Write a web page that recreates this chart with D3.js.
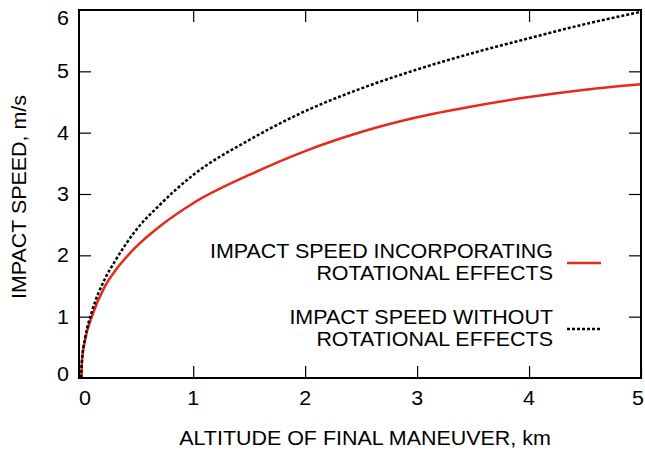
<!DOCTYPE html>
<html>
<head>
<meta charset="utf-8">
<script src="https://cdn.jsdelivr.net/npm/d3@7"></script>
<style>
  html, body { margin: 0; padding: 0; background: #fff; }
  svg { display: block; font-family: "Liberation Sans", Arial, sans-serif; }
</style>
</head>
<body>
<svg id="chart" width="645" height="453"></svg>
<script>
// Altitude of the final maneuver (km)
const altitude = [0, 0.005, 0.036, 0.095, 0.21, 0.3, 0.48, 0.7, 1, 1.5, 2, 2.5, 3, 3.5, 4, 4.5, 5];
// Impact speed including rotational effects (m/s)
const speedRotational = [0, 0.24, 0.63, 1.0, 1.49, 1.74, 2.12, 2.47, 2.85, 3.31, 3.70, 4.01, 4.25, 4.43, 4.58, 4.70, 4.79];
// Impact speed ignoring rotational effects (m/s)
const speedNoRotation = [0, 0.25, 0.66, 1.08, 1.61, 1.90, 2.39, 2.82, 3.31, 3.88, 4.35, 4.72, 5.03, 5.30, 5.54, 5.77, 5.97];

const xTicks = [0, 1, 2, 3, 4, 5];
const yTicks = [0, 1, 2, 3, 4, 5, 6];

const legendLabels = [
  ["IMPACT SPEED INCORPORATING", "ROTATIONAL EFFECTS"],
  ["IMPACT SPEED WITHOUT", "ROTATIONAL EFFECTS"]
];

const svg = d3.select("#chart");
const frame = { left: 79, right: 641, top: 10, bottom: 378 };
const fontSize = 19.5;
const widen = 1.1; // wide sans lettering

const x = d3.scaleLinear().domain([-0.02, 5]).range([frame.left, frame.right]);
const y = d3.scaleLinear().domain([0, 6]).range([frame.bottom, frame.top]);

// Helper: text placed at (tx, ty), optionally rotated, with widened glyphs
function label(parent, tx, ty, str, anchor, rot) {
  return parent.append("text")
    .attr("transform", `translate(${tx},${ty})${rot ? ` rotate(${rot})` : ""} scale(${widen},1)`)
    .attr("text-anchor", anchor)
    .attr("font-size", fontSize)
    .attr("fill", "#000")
    .text(str);
}

// clip curves to the frame
svg.append("clipPath").attr("id", "plot-clip")
  .append("rect").attr("x", frame.left).attr("y", frame.top)
  .attr("width", frame.right - frame.left).attr("height", frame.bottom - frame.top);

const tickLen = 12;

// Inward ticks on all four sides
const axisB = d3.axisBottom(x).tickValues(xTicks).tickSize(-tickLen).tickFormat("");
const axisT = d3.axisTop(x).tickValues(xTicks.slice(1, -1)).tickSize(-tickLen).tickFormat("");
const axisL = d3.axisLeft(y).tickValues(yTicks.slice(1, -1)).tickSize(-tickLen).tickFormat("");
const axisR = d3.axisRight(y).tickValues(yTicks.slice(1, -1)).tickSize(-tickLen).tickFormat("");

function styleAxis(g) {
  g.select(".domain").remove();
  g.selectAll(".tick line").attr("stroke", "#000").attr("stroke-width", 1.2);
}
svg.append("g").attr("transform", `translate(0,${frame.bottom})`).call(axisB).call(styleAxis);
svg.append("g").attr("transform", `translate(0,${frame.top})`).call(axisT).call(styleAxis);
svg.append("g").attr("transform", `translate(${frame.left},0)`).call(axisL).call(styleAxis);
svg.append("g").attr("transform", `translate(${frame.right},0)`).call(axisR).call(styleAxis);

// Tick labels (end labels nudged inside the page)
const xLab = svg.append("g");
xTicks.forEach(d => label(xLab, Math.min(Math.max(x(d), 85), 638), 405, d, "middle"));

const yLab = svg.append("g");
yTicks.forEach(d => label(yLab, 69, Math.min(Math.max(y(d), 18), 374) + 7, d, "end"));

// Axis titles
label(svg, 365, 445, "ALTITUDE OF FINAL MANEUVER, km", "middle");
label(svg, 26, 197, "IMPACT SPEED, m/s", "middle", -90);

// Curves
const rows = altitude.map((a, i) => ({ a, r: speedRotational[i], n: speedNoRotation[i] }));
const lineR = d3.line().x(d => x(d.a)).y(d => y(d.r)).curve(d3.curveMonotoneX);
const lineN = d3.line().x(d => x(d.a)).y(d => y(d.n)).curve(d3.curveMonotoneX);

const plot = svg.append("g").attr("clip-path", "url(#plot-clip)");
plot.append("path").datum(rows)
  .attr("d", lineR)
  .attr("fill", "none").attr("stroke", "#e8281e").attr("stroke-width", 2.5);
plot.append("path").datum(rows)
  .attr("d", lineN)
  .attr("fill", "none").attr("stroke", "#000").attr("stroke-width", 2.5)
  .attr("stroke-dasharray", "3,2");

// Frame
svg.append("rect")
  .attr("x", frame.left).attr("y", frame.top)
  .attr("width", frame.right - frame.left).attr("height", frame.bottom - frame.top)
  .attr("fill", "none").attr("stroke", "#000").attr("stroke-width", 2);

// Legend
const legend = svg.append("g");
const legendStyles = [
  { stroke: "#e8281e", dash: null, y0: 258 },
  { stroke: "#000", dash: "3,2", y0: 324 }
];
legendLabels.forEach((lines, i) => {
  const s = legendStyles[i];
  lines.forEach((t, j) => label(legend, 553, s.y0 + j * 22, t, "end"));
  legend.append("line")
    .attr("x1", 567).attr("x2", 601)
    .attr("y1", s.y0 + 5).attr("y2", s.y0 + 5)
    .attr("stroke", s.stroke).attr("stroke-width", 2.5)
    .attr("stroke-dasharray", s.dash);
});
</script>
</body>
</html>
